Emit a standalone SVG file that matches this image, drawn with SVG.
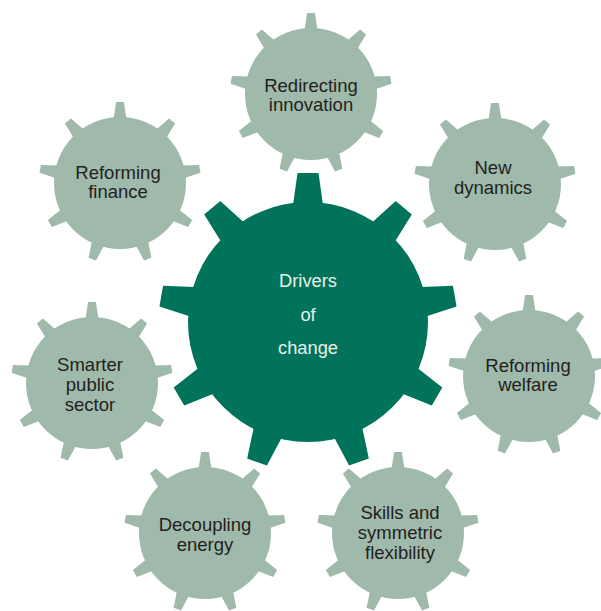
<svg xmlns="http://www.w3.org/2000/svg" xmlns:xlink="http://www.w3.org/1999/xlink" width="601" height="611" viewBox="0 0 601 611">
  <style>
    .outer { fill: #9fb9aa; }
    .center { fill: #00735a; }
    .lbl { font-family: "Liberation Sans", Arial, sans-serif; font-size: 18.5px; fill: #231f20; text-anchor: middle; }
    .clbl { font-family: "Liberation Sans", Arial, sans-serif; font-size: 18.3px; fill: #e8f0eb; text-anchor: middle; }
  </style>
  <defs>
    <polygon id="otooth" points="-6.5,-64 -3.9,-81 3.9,-81 6.5,-64"/>
    <g id="ogear">
      <circle r="66"/>
      <use xlink:href="#otooth" href="#otooth"/>
      <use xlink:href="#otooth" href="#otooth" transform="rotate(40)"/>
      <use xlink:href="#otooth" href="#otooth" transform="rotate(80)"/>
      <use xlink:href="#otooth" href="#otooth" transform="rotate(120)"/>
      <use xlink:href="#otooth" href="#otooth" transform="rotate(160)"/>
      <use xlink:href="#otooth" href="#otooth" transform="rotate(200)"/>
      <use xlink:href="#otooth" href="#otooth" transform="rotate(240)"/>
      <use xlink:href="#otooth" href="#otooth" transform="rotate(280)"/>
      <use xlink:href="#otooth" href="#otooth" transform="rotate(320)"/>
    </g>
    <polygon id="ctooth" points="-15,-117 -10.5,-149 10.5,-149 15,-117"/>
    <g id="cgear">
      <circle r="120"/>
      <use xlink:href="#ctooth" href="#ctooth"/>
      <use xlink:href="#ctooth" href="#ctooth" transform="rotate(40)"/>
      <use xlink:href="#ctooth" href="#ctooth" transform="rotate(80)"/>
      <use xlink:href="#ctooth" href="#ctooth" transform="rotate(120)"/>
      <use xlink:href="#ctooth" href="#ctooth" transform="rotate(160)"/>
      <use xlink:href="#ctooth" href="#ctooth" transform="rotate(200)"/>
      <use xlink:href="#ctooth" href="#ctooth" transform="rotate(240)"/>
      <use xlink:href="#ctooth" href="#ctooth" transform="rotate(280)"/>
      <use xlink:href="#ctooth" href="#ctooth" transform="rotate(320)"/>
    </g>
  </defs>
  <rect width="601" height="611" fill="#ffffff"/>
  <g id="connectors"/>

  <g id="redirecting-innovation">
    <use xlink:href="#ogear" href="#ogear" class="outer" transform="translate(311,94)"/>
    <text class="lbl" x="311" y="92">Redirecting</text>
    <text class="lbl" x="311" y="111">innovation</text>
  </g>

  <g id="reforming-finance">
    <use xlink:href="#ogear" href="#ogear" class="outer" transform="translate(120,183)"/>
    <text class="lbl" x="118" y="179">Reforming</text>
    <text class="lbl" x="118" y="198">finance</text>
  </g>

  <g id="new-dynamics">
    <use xlink:href="#ogear" href="#ogear" class="outer" transform="translate(495,184)"/>
    <text class="lbl" x="493" y="174">New</text>
    <text class="lbl" x="493" y="194">dynamics</text>
  </g>

  <g id="smarter-public-sector">
    <use xlink:href="#ogear" href="#ogear" class="outer" transform="translate(92,383)"/>
    <text class="lbl" x="90" y="371">Smarter</text>
    <text class="lbl" x="90" y="391">public</text>
    <text class="lbl" x="90" y="411">sector</text>
  </g>

  <g id="reforming-welfare">
    <use xlink:href="#ogear" href="#ogear" class="outer" transform="translate(529,376)"/>
    <text class="lbl" x="528" y="372">Reforming</text>
    <text class="lbl" x="528" y="391">welfare</text>
  </g>

  <g id="decoupling-energy">
    <use xlink:href="#ogear" href="#ogear" class="outer" transform="translate(205,533)"/>
    <text class="lbl" x="205" y="531">Decoupling</text>
    <text class="lbl" x="205" y="551">energy</text>
  </g>

  <g id="skills-symmetric-flexibility">
    <use xlink:href="#ogear" href="#ogear" class="outer" transform="translate(398,533)"/>
    <text class="lbl" x="400" y="519">Skills and</text>
    <text class="lbl" x="400" y="539">symmetric</text>
    <text class="lbl" x="400" y="559">flexibility</text>
  </g>

  <g id="drivers-of-change">
    <use xlink:href="#cgear" href="#cgear" class="center" transform="translate(308,322)"/>
    <text class="clbl" x="308" y="287">Drivers</text>
    <text class="clbl" x="308" y="321">of</text>
    <text class="clbl" x="308" y="354">change</text>
  </g>
</svg>
